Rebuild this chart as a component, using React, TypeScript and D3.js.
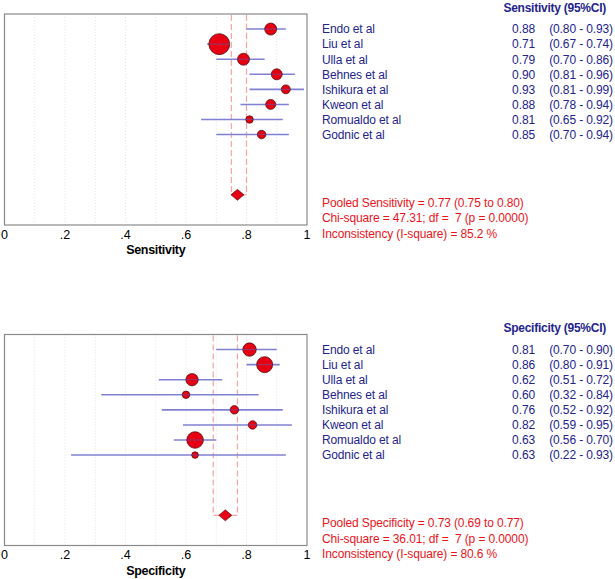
import React from "react";
import * as d3 from "d3";

const studies = ["Endo et al", "Liu et al", "Ulla et al", "Behnes et al", "Ishikura et al", "Kweon et al", "Romualdo et al", "Godnic et al"];

const sensEst = [0.88, 0.71, 0.79, 0.90, 0.93, 0.88, 0.81, 0.85];
const sensLo = [0.80, 0.67, 0.70, 0.81, 0.81, 0.78, 0.65, 0.70];
const sensHi = [0.93, 0.74, 0.86, 0.96, 0.99, 0.94, 0.92, 0.94];
const sensWeight = [36, 110, 36, 30, 20, 25, 14, 18];
const sensPooled = [0.77, 0.75, 0.80];
const sensStats = [
  "Pooled Sensitivity = 0.77 (0.75 to 0.80)",
  "Chi-square = 47.31; df =  7 (p = 0.0000)",
  "Inconsistency (I-square) = 85.2 %",
];

const specEst = [0.81, 0.86, 0.62, 0.60, 0.76, 0.82, 0.63, 0.63];
const specLo = [0.70, 0.80, 0.51, 0.32, 0.52, 0.59, 0.56, 0.22];
const specHi = [0.90, 0.91, 0.72, 0.84, 0.92, 0.95, 0.70, 0.93];
const specWeight = [45, 64, 38, 14, 18, 18, 69, 11];
const specPooled = [0.73, 0.69, 0.77];
const specStats = [
  "Pooled Specificity = 0.73 (0.69 to 0.77)",
  "Chi-square = 36.01; df =  7 (p = 0.0000)",
  "Inconsistency (I-square) = 80.6 %",
];

const tickValues = [0, 0.2, 0.4, 0.6, 0.8, 1];
const tickLabels = ["0", ".2", ".4", ".6", ".8", "1"];
const gridValues = [0.1, 0.2, 0.3, 0.4, 0.5, 0.6, 0.7, 0.8, 0.9];

const NAVY = "#24248c";
const RED = "#e8141c";
const FONT = "'Liberation Sans', Arial, sans-serif";

type PanelProps = {
  top: number;
  title: string;
  header: string;
  est: number[];
  lo: number[];
  hi: number[];
  weight: number[];
  pooled: number[];
  stats: string[];
};

function Panel({ top, title, header, est, lo, hi, weight, pooled, stats }: PanelProps) {
  const x = d3.scaleLinear().domain([0, 1]).range([4.5, 307]);
  const y = d3.scaleLinear().domain([-1, 13]).range([top, top + 211]);
  const r = d3.scaleSqrt().domain([0, 100]).range([0, 10]);
  const bottom = y(13);
  const dY = y(11);
  const fmt = d3.format(".2f");
  const ls = "-0.12px";

  return (
    <g>
      {gridValues.map((g) => (
        <line key={g} x1={x(g)} x2={x(g)} y1={top} y2={bottom} stroke="#e2e2e2" strokeWidth={1} strokeDasharray="1,2" />
      ))}
      {[pooled[1], pooled[2]].map((p, i) => (
        <line key={i} x1={x(p)} x2={x(p)} y1={top + 1} y2={dY} stroke="#f4a6a6" strokeWidth={1.2} strokeDasharray="6,3" />
      ))}
      <line x1={x(pooled[1])} x2={x(pooled[2])} y1={dY} y2={dY} stroke="#f4a6a6" strokeWidth={1.2} />
      <rect x={x(0)} y={top} width={x(1) - x(0)} height={bottom - top} fill="none" stroke="#8a8a8a" strokeWidth={1.2} />
      {est.map((e, i) => (
        <g key={i}>
          <line x1={x(lo[i])} x2={x(hi[i])} y1={y(i)} y2={y(i)} stroke="#8080d4" strokeWidth={1.6} />
          <circle cx={x(e)} cy={y(i)} r={r(weight[i])} fill="#e60012" stroke="#3c0a0a" strokeWidth={0.7} />
          <line x1={x(e) - r(weight[i])} x2={x(e) + r(weight[i])} y1={y(i)} y2={y(i)} stroke="#6060b0" strokeWidth={1} opacity={0.6} />
        </g>
      ))}
      <path
        d={`M${x(pooled[0]) - 6.5},${dY} L${x(pooled[0])},${dY - 5.5} L${x(pooled[0]) + 6.5},${dY} L${x(pooled[0])},${dY + 5.5} Z`}
        fill="#e60012"
        stroke="#3c0a0a"
        strokeWidth={0.6}
      />
      {tickValues.map((t, i) => (
        <text key={t} x={x(t)} y={bottom + 13.5} textAnchor="middle" fontSize={12.5} fontFamily={FONT} fill="#000">
          {tickLabels[i]}
        </text>
      ))}
      <text x={(x(0) + x(1)) / 2} y={bottom + 29} textAnchor="middle" fontSize={12.5} fontWeight="bold" fontFamily={FONT} fill="#000" letterSpacing="-0.3px">
        {title}
      </text>
      <text x={606} y={top - 2.5} textAnchor="end" fontSize={12} fontWeight="bold" fontFamily={FONT} fill={NAVY} letterSpacing="-0.25px">
        {header}
      </text>
      {studies.map((s, i) => (
        <g key={s} fontSize={12} fontFamily={FONT} fill={NAVY} letterSpacing={ls}>
          <text x={322} y={y(i) + 4.3}>{s}</text>
          <text x={535} y={y(i) + 4.3} textAnchor="end">{fmt(est[i])}</text>
          <text x={613} y={y(i) + 4.3} textAnchor="end">{`(${fmt(lo[i])} - ${fmt(hi[i])})`}</text>
        </g>
      ))}
      {stats.map((s, i) => (
        <text key={i} x={322} y={top + 188.5 + i * 15.5 + 4.3} fontSize={12} fontFamily={FONT} fill={RED} letterSpacing={ls} style={{ whiteSpace: "pre" }}>
          {s}
        </text>
      ))}
    </g>
  );
}

export default function App() {
  return (
    <svg width={615} height={579} style={{ position: "absolute", left: 0, top: 0, background: "#fff" }}>
      <rect width={615} height={579} fill="#fff" />
      <Panel top={14} title="Sensitivity" header="Sensitivity (95%CI)" est={sensEst} lo={sensLo} hi={sensHi} weight={sensWeight} pooled={sensPooled} stats={sensStats} />
      <Panel top={334.5} title="Specificity" header="Specificity (95%CI)" est={specEst} lo={specLo} hi={specHi} weight={specWeight} pooled={specPooled} stats={specStats} />
    </svg>
  );
}
